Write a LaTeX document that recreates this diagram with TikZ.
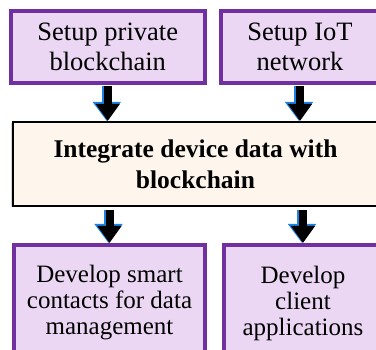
\documentclass[tikz,border=0pt]{standalone}
\usepackage{fontspec}
\setmainfont{Liberation Serif}
\usetikzlibrary{arrows.meta,shadows}
\definecolor{opurple}{RGB}{112,48,160}
\definecolor{lpurple}{RGB}{235,215,243}
\definecolor{ocream}{RGB}{254,246,236}
\definecolor{ablue}{RGB}{30,130,225}
\tikzstyle{task} = [draw=opurple, line width=4pt, fill=lpurple,
    	rectangle, align=center, inner sep=0pt,
    	drop shadow={shadow xshift=1.5pt, shadow yshift=-1.5pt, fill=black!30, opacity=.5}]
\tikzstyle{core} = [draw=black, line width=2pt, fill=ocream,
    	rectangle, align=center, inner sep=0pt,
    	drop shadow={shadow xshift=-1.5pt, shadow yshift=-1.5pt, fill=black!30, opacity=.5}]
\tikzstyle{flow} = [draw=black, line width=8pt, -{Triangle[length=17pt,width=23pt]},
    	preaction={draw=ablue, line width=10pt, -{Triangle[length=19pt,width=27pt]},
    	transform canvas={xshift=-1pt}}]

\begin{document}
\begin{tikzpicture}[x=1pt, y=-1pt]
\clip (0,0) rectangle (376,350);
\node (pbc) [task, minimum width=193.5pt, minimum height=72pt,
    font=\fontsize{26.5}{30}\selectfont] at (107.75,47) {Setup private\\blockchain};
\node (iot) [task, minimum width=158pt, minimum height=72pt,
    font=\fontsize{26.5}{30}\selectfont] at (300,47) {Setup IoT\\network};
\node (idd) [core, minimum width=365pt, minimum height=84pt,
    font=\bfseries\fontsize{25.5}{31}\selectfont] at (195.5,164) {Integrate device data with\\blockchain};
\node (dsc) [task, minimum width=191pt, minimum height=116pt,
    font=\fontsize{25}{26}\selectfont] at (109.5,303) {Develop smart\\contacts for data\\management};
\node (dca) [task, minimum width=158pt, minimum height=116pt,
    font=\fontsize{25}{26}\selectfont] at (303,303) {Develop\\client\\applications};
\draw[flow, shorten <=1pt] (pbc.south) -- (idd.north -| pbc.south);
\draw[flow, shorten <=1pt] (iot.south) -- (idd.north -| iot.south);
\draw[flow, shorten <=3pt] (idd.south -| dsc.north) -- (dsc.north);
\draw[flow, shorten <=3pt] (idd.south -| dca.north) -- (dca.north);
\end{tikzpicture}
\end{document}
